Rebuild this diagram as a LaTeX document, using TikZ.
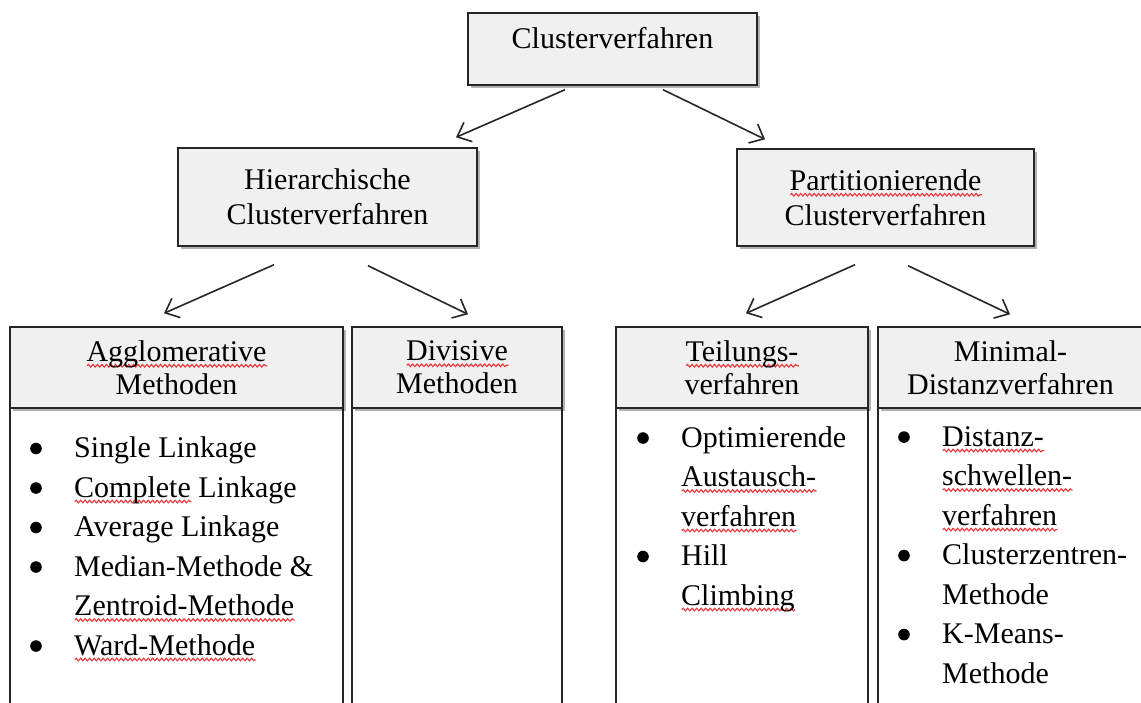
\documentclass[tikz,border=0pt]{standalone}
\usepackage{fontspec}
\setmainfont{Liberation Serif}
\usetikzlibrary{arrows.meta, shadows, decorations.pathmorphing}
\usepackage{xcolor}
\definecolor{boxgray}{HTML}{F0F0F0}
\definecolor{linegray}{HTML}{262626}
\definecolor{spellred}{HTML}{E8353A}
\newlength{\spellwd}
\newcommand{\spell}[1]{\settowidth{\spellwd}{#1}\rlap{\tikz[baseline=0pt, x=1pt, y=1pt]
    \draw[spellred, line width=1.1pt, decorate,
          decoration={snake, amplitude=1.3pt, segment length=4.5pt}]
    (0,-4.5) -- (\spellwd,-4.5);}#1}
\newcommand{\itm}{\makebox[44pt][l]{\tikz[baseline=0pt]\fill (5.5pt,9pt) circle (5.8pt);}}
\newcommand{\ind}{\hspace*{44pt}}

\begin{document}
\begin{tikzpicture}[x=1pt, y=-1pt,
    box/.style={rectangle, draw=linegray, line width=1.4pt, fill=boxgray,
                inner sep=0pt, align=center,
                drop shadow={shadow xshift=3pt, shadow yshift=-3pt, fill=black, opacity=0.3},
                font=\fontsize{30}{35}\selectfont},
    head/.style={box, minimum height=81pt, font=\fontsize{30}{33}\selectfont},
    body/.style={rectangle, draw=linegray, line width=1.4pt, inner sep=0pt,
                 minimum height=302pt},
    list/.style={anchor=north west, inner sep=0pt, align=left,
                 font=\fontsize{30}{39.5}\selectfont},
    arr/.style={-{Straight Barb[length=12pt, width=21pt]}, line width=1.6pt, color=linegray}
  ]
    \fill[white] (0,0) rectangle (1141,702);
    \useasboundingbox (0,0) rectangle (1141,702);

    %% Top level
    \node[box, minimum width=289pt, minimum height=72pt] (root) at (612.5,49)
        {\raisebox{22pt}{Clusterverfahren}};

    %% Second level
    \node[box, minimum width=299pt, minimum height=98pt] (hier) at (327.5,197)
        {Hierarchische\\Clusterverfahren};
    \node[box, minimum width=297pt, minimum height=97pt] (part) at (885.5,197.5)
        {\spell{Partitionierende}\\Clusterverfahren};

    %% Columns (bodies first, headers on top)
    \node[body, minimum width=333pt] (aggl-body) at (176.5,559) {};
    \node[body, minimum width=210pt] (div-body)  at (457,559) {};
    \node[body, minimum width=252pt] (teil-body) at (742,559) {};
    \node[body, minimum width=265pt] (min-body)  at (1010.5,559) {};

    \node[head, minimum width=333pt] (aggl) at (176.5,367.5) {\spell{Agglomerative}\\Methoden};
    \node[head, minimum width=210pt] (div)  at (457,367.5) {\spell{Divisive}\\Methoden};
    \node[head, minimum width=252pt] (teil) at (742,367.5) {\spell{Teilungs-}\\verfahren};
    \node[head, minimum width=265pt] (min)  at (1010.5,367.5) {Minimal-\\Distanzverfahren};

    %% Lists
    \node[list] (aggl-list) at (30,436.5) {\itm Single Linkage\\
        \itm \spell{Complete} Linkage\\
        \itm Average Linkage\\
        \itm Median-Methode \&\\
        \ind\spell{Zentroid-Methode}\\
        \itm \spell{Ward-Methode}};
    \node[list] (teil-list) at (637,426) {\itm Optimierende\\
        \ind\spell{Austausch-}\\
        \ind\spell{verfahren}\\
        \itm Hill\\
        \ind\spell{Climbing}};
    \node[list] (min-list) at (898,426) {\itm \spell{Distanz-}\\
        \ind\spell{schwellen-}\\
        \ind\spell{verfahren}\\
        \itm Clusterzentren-\\
        \ind Methode\\
        \itm K-Means-\\
        \ind Methode};

    %% Arrows
    \draw[arr] ([xshift=-47.5pt, yshift=-4pt]root.south) -- ([xshift=128.5pt, yshift=10pt]hier.north);
    \draw[arr] ([xshift=50.5pt, yshift=-4pt]root.south) -- ([xshift=-120.5pt, yshift=9pt]part.north);
    \draw[arr] ([xshift=-53.5pt, yshift=-18pt]hier.south) -- ([xshift=-12.5pt, yshift=13pt]aggl.north);
    \draw[arr] ([xshift=40.5pt, yshift=-19pt]hier.south) -- ([xshift=11pt, yshift=12pt]div.north);
    \draw[arr] ([xshift=-30.5pt, yshift=-18pt]part.south) -- ([xshift=4pt, yshift=13pt]teil.north);
    \draw[arr] ([xshift=22.5pt, yshift=-19pt]part.south) -- ([xshift=-0.5pt, yshift=12pt]min.north);
  \end{tikzpicture}
\end{document}
